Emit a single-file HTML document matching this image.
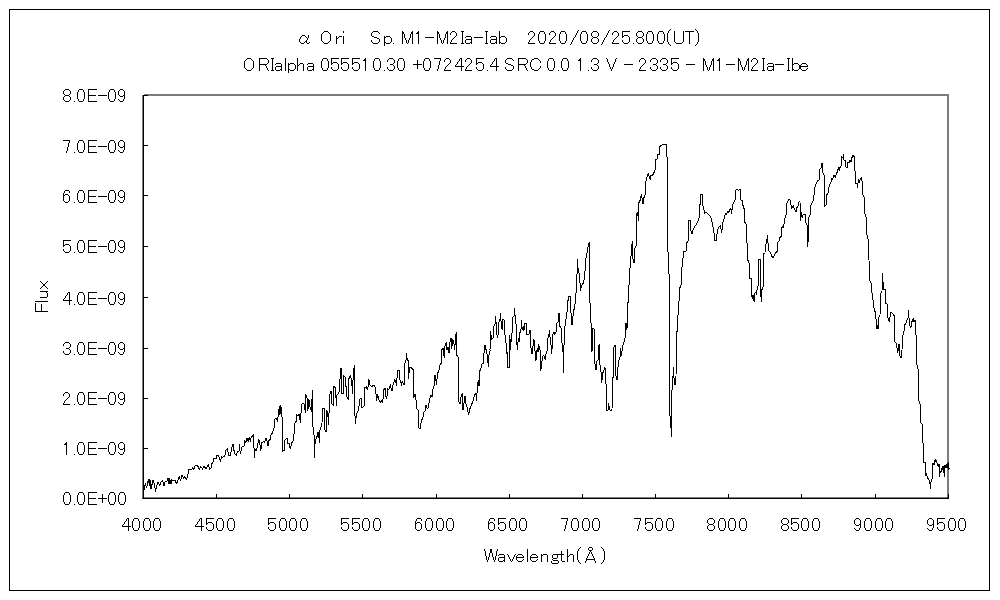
<!DOCTYPE html>
<html><head><meta charset="utf-8"><title>alpha Ori spectrum</title>
<style>
html,body{margin:0;padding:0;background:#fff;}
body{width:1000px;height:600px;overflow:hidden;font-family:"Liberation Sans",sans-serif;}
svg{display:block;}
text{font-family:"Liberation Sans",sans-serif;font-size:18px;fill:transparent;stroke:none;}
</style></head><body>
<svg width="1000" height="600" viewBox="0 0 1000 600">
<rect x="0" y="0" width="1000" height="600" fill="#fff"/>
<rect x="9.5" y="9.5" width="980" height="581" fill="none" stroke="#000" stroke-width="1" shape-rendering="crispEdges"/>
<rect x="144" y="94" width="805" height="2" fill="#7c7c7c"/>
<rect x="947" y="94" width="2" height="405" fill="#7c7c7c"/>
<path d="M144.0 490.5 L145.5 483.0 L146.5 488.0 L148.5 479.5 L149.5 486.0 L150.0 479.5 L151.0 489.0 L153.0 480.0 L154.5 484.0 L155.5 491.5 L157.5 483.0 L158.5 482.5 L159.5 486.0 L160.5 483.0 L162.5 480.0 L164.0 486.0 L165.0 482.0 L167.0 481.0 L168.0 478.0 L169.0 484.0 L169.5 478.0 L171.0 484.0 L171.5 480.0 L174.0 480.5 L175.0 480.0 L176.5 484.0 L178.5 478.5 L179.5 476.5 L180.5 481.0 L182.0 475.0 L183.5 478.5 L184.5 477.0 L186.5 479.0 L187.5 477.5 L188.5 470.0 L192.0 469.0 L192.5 467.5 L193.5 470.0 L194.5 467.0 L195.5 465.5 L197.5 465.5 L198.5 467.5 L199.5 470.0 L200.5 466.0 L202.5 469.0 L204.0 466.0 L206.0 469.0 L208.5 464.5 L209.5 469.0 L211.0 468.0 L212.0 463.5 L213.5 461.5 L214.0 458.5 L216.5 458.0 L217.0 455.5 L218.5 455.5 L219.5 458.0 L220.5 462.0 L221.5 456.0 L222.5 457.5 L225.0 455.5 L226.0 450.0 L227.5 448.5 L228.5 455.0 L230.5 455.0 L231.5 450.0 L232.5 444.0 L233.5 444.0 L234.0 450.5 L235.0 454.2 L236.5 455.0 L237.2 452.0 L239.0 451.2 L239.5 444.5 L240.2 453.5 L241.3 449.7 L242.2 446.7 L244.0 446.0 L244.7 440.0 L245.8 443.0 L247.0 437.7 L248.2 441.5 L249.2 437.0 L250.3 441.5 L251.2 437.0 L252.2 436.2 L253.3 434.3 L253.9 446.0 L254.5 457.7 L255.2 449.0 L256.3 450.5 L257.5 446.0 L258.7 439.2 L259.7 443.0 L260.8 450.5 L261.7 443.0 L263.5 441.5 L264.7 442.2 L265.7 437.7 L266.8 440.0 L268.0 446.0 L268.7 440.7 L270.2 439.2 L271.0 434.7 L272.5 433.2 L274.0 428.0 L274.7 419.0 L276.7 418.2 L277.3 422.0 L278.5 413.7 L279.4 406.2 L280.0 414.5 L280.9 405.5 L281.5 416.0 L282.4 417.5 L282.7 451.2 L284.2 450.5 L284.8 440.0 L286.0 439.2 L287.2 437.7 L287.8 443.0 L289.0 443.0 L289.7 447.5 L290.8 448.2 L291.2 443.7 L292.7 441.5 L293.8 440.0 L294.2 429.5 L295.0 422.7 L296.2 421.2 L296.8 415.2 L298.0 416.0 L299.2 413.7 L300.4 422.7 L301.0 413.0 L301.7 404.0 L303.2 403.2 L304.0 404.0 L305.5 413.0 L305.8 394.2 L307.0 398.0 L307.9 410.7 L308.8 398.7 L310.0 407.0 L311.5 411.5 L312.4 389.7 L312.7 426.5 L313.9 429.5 L314.5 457.7 L315.2 439.2 L316.7 438.5 L317.8 431.7 L318.7 432.5 L319.3 443.0 L319.7 431.0 L321.2 426.5 L322.0 422.7 L322.7 408.5 L324.7 408.5 L325.0 430.2 L326.2 431.7 L326.8 410.0 L327.7 413.0 L328.7 425.0 L329.5 395.0 L331.0 391.2 L331.7 403.2 L333.2 405.5 L333.7 386.7 L335.0 386.0 L334.9 386.7 L335.8 393.5 L336.4 406.2 L337.0 395.0 L338.5 393.5 L339.4 390.5 L340.6 368.7 L341.2 368.0 L341.8 393.5 L343.0 394.2 L343.6 375.5 L344.8 377.0 L345.7 377.7 L346.3 395.0 L347.5 398.7 L348.2 399.5 L349.0 378.5 L350.5 374.7 L351.7 382.2 L352.6 394.2 L353.2 373.2 L354.4 365.0 L355.0 416.0 L355.6 424.2 L356.2 414.5 L357.2 412.2 L358.7 410.0 L359.5 399.5 L361.0 398.0 L361.7 407.7 L363.2 406.7 L364.3 405.5 L364.9 387.5 L366.2 386.7 L367.3 389.7 L368.5 385.2 L368.8 379.2 L369.7 384.5 L370.7 386.0 L372.2 386.7 L373.3 385.2 L374.8 386.0 L375.7 391.2 L376.7 401.0 L377.5 394.2 L378.7 399.5 L380.2 402.8 L381.4 401.0 L382.7 403.2 L383.8 389.7 L385.0 388.2 L385.7 395.7 L386.8 398.7 L387.7 389.0 L388.9 389.7 L389.8 386.7 L390.4 384.5 L391.3 389.7 L392.2 391.2 L392.8 385.2 L394.0 382.2 L394.7 379.2 L395.8 381.5 L396.4 386.0 L397.0 378.5 L397.6 370.2 L399.1 370.2 L399.7 380.0 L400.7 380.7 L401.5 386.0 L402.2 380.7 L403.3 383.7 L404.2 384.5 L404.8 363.5 L406.0 360.5 L406.6 353.3 L407.2 359.7 L408.2 360.5 L408.7 379.2 L409.3 368.0 L410.8 367.2 L412.3 368.7 L413.5 370.2 L413.8 398.0 L415.0 394.2 L415.9 398.7 L416.8 408.5 L418.3 410.7 L418.9 428.0 L420.4 428.7 L421.0 423.5 L421.9 419.7 L422.8 418.2 L424.0 412.2 L425.0 410.7 L425.0 410.0 L426.0 405.0 L427.4 409.0 L428.6 407.0 L429.4 400.0 L431.0 395.0 L432.0 397.0 L433.0 389.0 L434.6 384.0 L435.0 375.0 L436.6 385.0 L437.4 374.0 L439.0 370.0 L440.0 365.0 L441.4 363.0 L441.8 350.0 L443.0 348.0 L444.2 358.0 L445.0 346.0 L446.2 342.0 L447.0 350.0 L448.0 347.0 L449.0 353.0 L450.0 342.0 L451.0 338.0 L451.8 349.0 L452.6 339.0 L453.8 342.0 L454.6 350.0 L455.4 340.0 L456.2 332.4 L456.6 355.0 L458.2 357.0 L459.0 402.0 L460.2 404.0 L461.0 397.0 L462.2 393.0 L463.0 410.0 L463.8 404.0 L465.0 396.0 L466.2 405.0 L467.4 408.0 L468.6 415.0 L469.8 409.0 L471.0 406.0 L473.0 401.0 L474.6 395.0 L475.8 393.0 L476.6 401.0 L477.4 385.0 L478.6 380.0 L479.0 386.0 L479.8 371.0 L481.4 367.0 L482.2 363.0 L483.4 363.0 L484.2 350.0 L485.0 345.0 L486.6 352.0 L487.8 358.0 L488.2 367.0 L489.0 355.0 L490.2 350.0 L490.0 349.7 L490.6 331.0 L491.5 339.2 L493.0 338.5 L493.6 326.5 L495.1 324.2 L495.5 316.3 L496.3 325.0 L497.2 337.7 L498.1 334.7 L498.7 322.7 L499.9 320.5 L500.5 313.3 L501.4 327.2 L502.3 329.5 L502.9 318.7 L504.4 320.2 L504.7 334.7 L505.9 336.2 L506.2 353.5 L507.4 352.0 L507.7 367.7 L509.5 367.7 L509.8 335.5 L510.7 349.7 L511.3 335.5 L512.2 332.5 L512.8 317.2 L514.3 316.0 L514.6 308.2 L515.2 318.2 L516.1 324.2 L516.7 343.0 L517.6 349.7 L518.2 338.5 L519.1 341.5 L519.7 333.2 L520.9 331.0 L521.5 320.5 L522.2 329.5 L523.3 325.7 L523.9 331.0 L524.8 323.5 L526.6 323.5 L526.9 334.3 L529.0 334.3 L529.6 331.0 L530.5 330.7 L531.1 350.5 L532.0 354.2 L532.9 347.5 L533.5 339.2 L534.7 340.7 L535.3 361.0 L536.5 359.5 L537.1 348.2 L538.0 352.0 L538.6 344.5 L539.5 348.2 L540.4 351.2 L540.7 370.7 L541.6 365.5 L542.5 356.5 L543.7 355.7 L544.6 357.2 L545.5 360.2 L546.1 352.7 L547.0 351.2 L547.6 338.5 L548.8 336.2 L549.4 330.2 L550.3 340.0 L551.2 346.7 L551.5 354.2 L552.1 347.5 L553.0 334.0 L553.9 331.7 L554.8 334.0 L556.0 332.5 L556.6 323.5 L558.1 322.0 L558.7 313.3 L559.6 313.7 L559.9 326.5 L561.1 328.0 L562.0 343.0 L562.9 347.5 L563.5 373.0 L563.8 350.5 L564.7 328.7 L566.3 316.7 L567.3 310.0 L568.3 296.7 L570.3 296.7 L571.0 313.3 L572.0 325.0 L572.7 320.8 L573.3 311.7 L574.7 307.5 L575.7 295.0 L576.7 290.0 L577.3 259.2 L578.3 271.7 L579.7 275.0 L580.3 290.8 L581.7 285.8 L583.7 282.5 L584.7 275.8 L585.7 260.0 L586.7 255.0 L588.0 246.7 L589.3 242.5 L589.7 296.7 L590.3 308.3 L591.0 323.3 L591.7 328.3 L591.7 327.5 L592.0 351.7 L593.0 328.3 L594.3 329.2 L594.7 362.5 L596.0 370.0 L596.7 361.7 L598.0 360.0 L598.7 345.0 L599.7 344.2 L600.0 365.0 L601.0 371.7 L601.7 382.5 L602.7 373.3 L604.0 370.0 L605.0 367.5 L605.7 383.3 L606.3 385.0 L606.7 410.0 L608.0 410.0 L608.7 403.3 L609.3 409.2 L610.3 410.0 L612.0 410.0 L612.3 378.3 L613.3 377.5 L614.0 346.7 L615.3 344.7 L615.7 375.0 L617.0 380.0 L617.7 370.0 L618.7 360.8 L620.0 357.5 L620.7 348.3 L621.7 355.8 L622.3 347.5 L623.7 342.5 L624.7 341.7 L625.3 334.2 L626.0 323.3 L627.0 330.0 L627.3 305.0 L628.7 300.0 L629.3 271.7 L630.3 266.7 L631.3 251.7 L632.3 240.8 L633.0 259.2 L634.0 263.3 L635.0 248.3 L636.3 245.0 L636.7 230.0 L636.3 214.2 L637.7 211.7 L638.3 220.8 L639.0 202.5 L640.3 200.0 L641.3 194.2 L642.3 199.2 L643.0 204.2 L643.7 198.3 L645.0 195.0 L645.7 182.5 L646.7 178.3 L647.7 175.0 L648.3 173.3 L649.3 176.7 L650.3 180.0 L651.0 175.0 L652.7 175.0 L654.0 172.5 L655.0 170.8 L655.3 160.0 L657.0 159.2 L657.7 154.7 L659.3 154.2 L660.0 146.3 L661.7 145.0 L663.7 144.3 L666.3 144.7 L666.7 156.7 L667.3 157.5 L667.7 235.0 L667.7 251.7 L668.7 252.5 L669.0 274.2 L669.7 275.0 L669.7 330.0 L669.6 415.0 L670.8 417.0 L671.2 437.0 L671.6 391.0 L672.8 387.0 L673.2 367.0 L674.4 383.0 L675.2 385.0 L676.0 377.0 L676.4 333.0 L678.0 329.0 L677.7 330.0 L678.3 301.7 L679.3 300.8 L679.7 288.3 L681.0 285.0 L681.7 267.5 L682.7 265.0 L683.3 251.7 L685.3 251.3 L686.3 250.8 L687.0 242.5 L688.3 240.8 L688.3 235.0 L688.3 220.3 L690.0 220.3 L690.7 230.0 L692.0 234.2 L693.0 230.0 L694.7 226.3 L696.3 225.0 L697.7 221.7 L699.0 218.3 L699.7 205.0 L700.7 203.3 L701.0 194.7 L702.3 194.3 L702.3 194.2 L702.7 205.0 L704.0 210.0 L704.7 213.3 L706.3 212.5 L707.7 213.7 L709.3 215.0 L711.0 218.3 L712.3 223.3 L713.7 230.0 L714.7 240.0 L716.3 240.0 L717.0 234.2 L718.3 227.5 L719.7 226.7 L720.7 225.0 L721.3 232.5 L722.3 228.3 L723.3 220.0 L724.7 217.5 L725.3 213.3 L726.7 214.2 L727.7 210.8 L728.7 212.5 L729.7 209.2 L730.7 208.3 L731.7 214.2 L732.3 205.0 L733.7 202.5 L735.0 200.0 L735.7 190.0 L737.3 189.3 L738.7 190.3 L740.0 189.3 L740.7 199.7 L742.0 200.3 L742.7 204.2 L743.7 208.3 L744.7 209.2 L745.0 222.5 L746.3 224.2 L747.0 243.3 L747.7 246.7 L747.5 260.0 L748.5 261.0 L749.5 265.5 L749.5 278.5 L751.5 278.5 L751.5 296.5 L752.5 296.0 L753.5 301.0 L754.0 295.0 L754.5 301.5 L755.0 293.0 L756.0 292.5 L756.5 294.5 L757.0 290.0 L758.5 284.5 L758.5 259.5 L760.5 259.5 L760.5 292.5 L761.5 302.0 L761.8 290.0 L763.5 285.5 L763.5 254.0 L765.5 252.5 L765.7 245.0 L766.7 242.5 L767.3 235.0 L768.0 243.3 L768.7 250.8 L770.0 251.7 L771.3 255.0 L772.7 258.0 L774.0 255.8 L775.3 253.3 L776.0 251.7 L777.0 252.5 L777.7 242.5 L779.0 240.8 L779.7 238.0 L781.0 236.7 L781.7 228.3 L782.7 225.8 L783.7 228.3 L784.3 220.0 L785.3 216.7 L786.0 215.0 L786.7 204.2 L788.0 200.8 L789.3 199.2 L790.7 200.8 L791.3 208.3 L792.7 207.5 L793.3 205.0 L794.3 209.2 L795.3 210.8 L796.3 211.7 L797.0 207.5 L798.3 205.8 L799.0 201.7 L800.0 201.3 L800.0 201.3 L800.3 220.8 L801.3 212.5 L802.3 218.3 L803.3 214.2 L805.3 214.2 L806.0 223.3 L807.0 225.0 L807.7 246.7 L808.3 238.3 L808.7 217.5 L810.0 215.0 L810.7 205.8 L812.3 202.5 L813.7 200.0 L814.3 190.8 L815.3 185.0 L816.7 183.3 L817.7 180.3 L819.3 180.0 L820.0 169.2 L821.0 168.0 L821.7 163.0 L822.3 164.2 L823.0 173.3 L824.3 175.8 L824.7 206.7 L826.0 205.0 L826.7 195.0 L828.0 193.3 L829.0 186.7 L830.0 184.2 L831.0 181.7 L831.7 178.3 L832.7 179.2 L833.7 175.8 L834.7 175.0 L835.3 178.3 L836.3 173.3 L837.7 171.7 L838.3 166.7 L839.3 170.8 L840.0 167.5 L841.3 165.8 L841.7 157.0 L843.0 157.5 L843.3 154.2 L844.0 160.0 L845.3 160.8 L846.0 166.7 L847.3 168.3 L848.0 161.7 L849.0 163.3 L850.0 160.0 L851.0 161.7 L852.0 157.5 L852.7 154.7 L853.3 156.3 L854.3 156.3 L854.7 170.0 L855.7 173.3 L856.0 184.2 L857.0 183.3 L857.7 187.5 L858.3 179.2 L859.3 182.5 L860.3 179.2 L861.3 178.3 L862.0 180.8 L862.7 194.2 L864.0 196.7 L864.7 213.3 L866.0 216.7 L867.0 235.0 L868.3 240.0 L869.0 260.0 L869.3 279.2 L871.0 283.3 L872.0 293.3 L873.3 301.7 L874.3 310.8 L875.7 312.5 L876.3 325.0 L877.0 329.2 L877.7 325.0 L878.3 329.2 L878.7 317.5 L880.0 315.0 L880.7 293.3 L882.0 290.8 L882.7 273.3 L883.3 289.2 L885.0 289.2 L885.7 303.3 L887.3 304.2 L888.0 318.3 L889.3 321.7 L890.3 315.0 L891.0 311.7 L892.3 313.3 L893.7 315.0 L894.7 316.7 L895.0 341.7 L896.0 343.3 L897.0 348.3 L897.7 353.3 L898.3 348.3 L899.0 344.2 L899.7 355.0 L900.7 358.3 L901.3 357.5 L902.0 350.0 L902.7 335.8 L903.7 333.3 L904.7 325.0 L906.0 323.3 L907.0 320.0 L908.0 318.3 L908.7 310.0 L909.3 325.0 L910.3 326.7 L911.0 327.5 L911.7 321.7 L912.7 320.8 L913.3 318.3 L914.0 321.7 L915.0 320.0 L915.7 335.0 L916.7 335.8 L917.0 365.0 L917.3 366.0 L918.4 371.3 L918.7 400.0 L920.0 404.0 L920.5 422.7 L922.1 424.0 L922.4 430.0 L922.4 442.6 L923.4 443.2 L923.4 462.2 L925.5 462.4 L925.5 476.2 L926.5 473.2 L927.4 477.4 L928.4 479.2 L929.6 481.0 L930.1 484.6 L930.6 489.4 L930.8 482.2 L932.0 479.8 L932.5 463.6 L933.7 463.0 L934.2 465.4 L934.6 460.6 L935.6 460.0 L936.1 462.4 L936.8 460.6 L937.3 465.4 L938.0 464.2 L938.5 467.2 L939.0 463.6 L939.4 476.8 L940.2 470.8 L940.9 472.6 L941.6 467.8 L942.3 469.6 L943.0 466.0 L943.8 467.2 L944.2 477.4 L944.7 466.0 L945.4 465.4 L946.2 468.4 L946.6 463.6 L947.4 468.4 L948.1 462.4 L948.6 469.6 L949.3 468.4 L949.8 469.0" fill="none" stroke="#000" stroke-width="1" stroke-linejoin="miter" stroke-miterlimit="2" shape-rendering="crispEdges"/>
<rect x="142.5" y="95" width="1.5" height="404" fill="#000"/>
<rect x="142.5" y="497.5" width="806.5" height="1.5" fill="#000"/>
<g fill="#000" shape-rendering="crispEdges"><rect x="144" y="498" width="4" height="1"/><rect x="144" y="448" width="4" height="1"/><rect x="144" y="398" width="4" height="1"/><rect x="144" y="348" width="4" height="1"/><rect x="144" y="297" width="4" height="1"/><rect x="144" y="246" width="4" height="1"/><rect x="144" y="195" width="4" height="1"/><rect x="144" y="145" width="4" height="1"/><rect x="144" y="95" width="4" height="1"/><rect x="143" y="494" width="1" height="4"/><rect x="216" y="494" width="1" height="4"/><rect x="289" y="494" width="1" height="4"/><rect x="362" y="494" width="1" height="4"/><rect x="436" y="494" width="1" height="4"/><rect x="509" y="494" width="1" height="4"/><rect x="582" y="494" width="1" height="4"/><rect x="655" y="494" width="1" height="4"/><rect x="728" y="494" width="1" height="4"/><rect x="801" y="494" width="1" height="4"/><rect x="875" y="494" width="1" height="4"/><rect x="948" y="494" width="1" height="4"/></g>
<path d="M35 303h1v8h-1zM35 301h13v1h-13zM35 311h13v1h-13zM40 281h1v1h-1zM40 288h1v1h-1zM40 297h7v1h-7zM40 291h8v1h-8zM41 282h1v1h-1zM41 287h1v1h-1zM41 304h1v7h-1zM42 283h1v1h-1zM42 286h1v1h-1zM43 284h2v2h-2zM45 283h1v1h-1zM45 286h1v1h-1zM46 282h1v1h-1zM46 287h1v1h-1zM46 292h1v1h-1zM47 281h1v1h-1zM47 288h1v1h-1zM47 293h1v4h-1zM63 91h1v3h-1zM63 97h1v3h-1zM63 193h1v2h-1zM63 196h1v5h-1zM63 241h1v4h-1zM63 246h1v1h-1zM63 249h1v2h-1zM63 299h1v1h-1zM63 344h1v2h-1zM63 351h1v2h-1zM63 394h1v2h-1zM63 403h1v1h-1zM63 495h1v7h-1zM63 195h2v1h-2zM63 245h2v1h-2zM63 140h7v1h-7zM63 404h7v1h-7zM63 240h8v1h-8zM63 300h9v1h-9zM64 90h1v1h-1zM64 94h1v1h-1zM64 96h1v1h-1zM64 100h1v1h-1zM64 191h1v2h-1zM64 201h1v1h-1zM64 251h1v1h-1zM64 298h1v1h-1zM64 343h1v1h-1zM64 353h1v1h-1zM64 393h1v1h-1zM64 401h1v2h-1zM64 493h1v2h-1zM64 502h1v2h-1zM64 444h3v1h-3zM65 296h1v2h-1zM65 400h1v1h-1zM65 443h2v1h-2zM65 194h3v1h-3zM65 202h3v1h-3zM65 392h3v1h-3zM65 89h4v1h-4zM65 95h4v1h-4zM65 101h4v1h-4zM65 190h4v1h-4zM65 244h4v1h-4zM65 252h4v1h-4zM65 342h4v1h-4zM65 354h4v1h-4zM65 492h4v1h-4zM65 504h4v1h-4zM66 151h1v2h-1zM66 295h1v1h-1zM66 399h1v1h-1zM66 442h1v1h-1zM66 445h1v10h-1zM66 348h3v1h-3zM67 147h1v4h-1zM67 293h1v2h-1zM67 398h1v1h-1zM68 143h1v4h-1zM68 195h1v1h-1zM68 201h1v1h-1zM68 393h1v1h-1zM68 397h1v1h-1zM68 292h2v1h-2zM69 90h1v1h-1zM69 94h1v1h-1zM69 96h1v1h-1zM69 100h1v1h-1zM69 141h1v2h-1zM69 191h1v2h-1zM69 196h1v5h-1zM69 245h1v1h-1zM69 251h1v1h-1zM69 293h1v7h-1zM69 301h1v4h-1zM69 343h1v1h-1zM69 347h1v1h-1zM69 349h1v1h-1zM69 353h1v1h-1zM69 394h1v3h-1zM69 493h1v2h-1zM69 502h1v2h-1zM70 91h1v3h-1zM70 97h1v3h-1zM70 246h1v5h-1zM70 344h1v3h-1zM70 350h1v3h-1zM70 495h1v7h-1zM74 101h1v1h-1zM74 152h1v1h-1zM74 202h1v1h-1zM74 252h1v1h-1zM74 304h1v1h-1zM74 354h1v1h-1zM74 404h1v1h-1zM74 454h1v1h-1zM74 504h1v1h-1zM77 92h1v7h-1zM77 143h1v7h-1zM77 193h1v7h-1zM77 243h1v7h-1zM77 295h1v7h-1zM77 345h1v7h-1zM77 395h1v7h-1zM77 445h1v7h-1zM77 495h1v7h-1zM78 90h1v2h-1zM78 99h1v2h-1zM78 141h1v2h-1zM78 150h1v2h-1zM78 191h1v2h-1zM78 200h1v2h-1zM78 241h1v2h-1zM78 250h1v2h-1zM78 293h1v2h-1zM78 302h1v2h-1zM78 343h1v2h-1zM78 352h1v2h-1zM78 393h1v2h-1zM78 402h1v2h-1zM78 443h1v2h-1zM78 452h1v2h-1zM78 493h1v2h-1zM78 502h1v2h-1zM79 89h4v1h-4zM79 101h4v1h-4zM79 140h4v1h-4zM79 152h4v1h-4zM79 190h4v1h-4zM79 202h4v1h-4zM79 240h4v1h-4zM79 252h4v1h-4zM79 292h4v1h-4zM79 304h4v1h-4zM79 342h4v1h-4zM79 354h4v1h-4zM79 392h4v1h-4zM79 404h4v1h-4zM79 442h4v1h-4zM79 454h4v1h-4zM79 492h4v1h-4zM79 504h4v1h-4zM83 90h1v2h-1zM83 99h1v2h-1zM83 141h1v2h-1zM83 150h1v2h-1zM83 191h1v2h-1zM83 200h1v2h-1zM83 241h1v2h-1zM83 250h1v2h-1zM83 293h1v2h-1zM83 302h1v2h-1zM83 343h1v2h-1zM83 352h1v2h-1zM83 393h1v2h-1zM83 402h1v2h-1zM83 443h1v2h-1zM83 452h1v2h-1zM83 493h1v2h-1zM83 502h1v2h-1zM84 92h1v7h-1zM84 143h1v7h-1zM84 193h1v7h-1zM84 243h1v7h-1zM84 295h1v7h-1zM84 345h1v7h-1zM84 395h1v7h-1zM84 445h1v7h-1zM84 495h1v7h-1zM88 90h1v5h-1zM88 96h1v5h-1zM88 141h1v5h-1zM88 147h1v5h-1zM88 191h1v5h-1zM88 197h1v5h-1zM88 241h1v5h-1zM88 247h1v5h-1zM88 293h1v5h-1zM88 299h1v5h-1zM88 343h1v5h-1zM88 349h1v5h-1zM88 393h1v5h-1zM88 399h1v5h-1zM88 443h1v5h-1zM88 449h1v5h-1zM88 493h1v5h-1zM88 499h1v5h-1zM88 95h8v1h-8zM88 146h8v1h-8zM88 196h8v1h-8zM88 246h8v1h-8zM88 298h8v1h-8zM88 348h8v1h-8zM88 398h8v1h-8zM88 448h8v1h-8zM88 498h8v1h-8zM88 89h9v1h-9zM88 101h9v1h-9zM88 140h9v1h-9zM88 152h9v1h-9zM88 190h9v1h-9zM88 202h9v1h-9zM88 240h9v1h-9zM88 252h9v1h-9zM88 292h9v1h-9zM88 304h9v1h-9zM88 342h9v1h-9zM88 354h9v1h-9zM88 392h9v1h-9zM88 404h9v1h-9zM88 442h9v1h-9zM88 454h9v1h-9zM88 492h9v1h-9zM88 504h9v1h-9zM98 95h9v1h-9zM98 146h9v1h-9zM98 196h9v1h-9zM98 246h9v1h-9zM98 298h9v1h-9zM98 348h9v1h-9zM98 398h9v1h-9zM98 448h9v1h-9zM98 498h9v1h-9zM102 494h1v4h-1zM102 499h1v4h-1zM108 92h1v7h-1zM108 143h1v7h-1zM108 193h1v7h-1zM108 243h1v7h-1zM108 295h1v7h-1zM108 345h1v7h-1zM108 395h1v7h-1zM108 445h1v7h-1zM108 495h1v7h-1zM109 90h1v2h-1zM109 99h1v2h-1zM109 141h1v2h-1zM109 150h1v2h-1zM109 191h1v2h-1zM109 200h1v2h-1zM109 241h1v2h-1zM109 250h1v2h-1zM109 293h1v2h-1zM109 302h1v2h-1zM109 343h1v2h-1zM109 352h1v2h-1zM109 393h1v2h-1zM109 402h1v2h-1zM109 443h1v2h-1zM109 452h1v2h-1zM109 493h1v2h-1zM109 502h1v2h-1zM110 89h4v1h-4zM110 101h4v1h-4zM110 140h4v1h-4zM110 152h4v1h-4zM110 190h4v1h-4zM110 202h4v1h-4zM110 240h4v1h-4zM110 252h4v1h-4zM110 292h4v1h-4zM110 304h4v1h-4zM110 342h4v1h-4zM110 354h4v1h-4zM110 392h4v1h-4zM110 404h4v1h-4zM110 442h4v1h-4zM110 454h4v1h-4zM110 492h4v1h-4zM110 504h4v1h-4zM114 90h1v2h-1zM114 99h1v2h-1zM114 141h1v2h-1zM114 150h1v2h-1zM114 191h1v2h-1zM114 200h1v2h-1zM114 241h1v2h-1zM114 250h1v2h-1zM114 293h1v2h-1zM114 302h1v2h-1zM114 343h1v2h-1zM114 352h1v2h-1zM114 393h1v2h-1zM114 402h1v2h-1zM114 443h1v2h-1zM114 452h1v2h-1zM114 493h1v2h-1zM114 502h1v2h-1zM115 92h1v7h-1zM115 143h1v7h-1zM115 193h1v7h-1zM115 243h1v7h-1zM115 295h1v7h-1zM115 345h1v7h-1zM115 395h1v7h-1zM115 445h1v7h-1zM115 495h1v7h-1zM118 91h1v4h-1zM118 99h1v1h-1zM118 142h1v4h-1zM118 150h1v1h-1zM118 192h1v4h-1zM118 200h1v1h-1zM118 242h1v4h-1zM118 250h1v1h-1zM118 294h1v4h-1zM118 302h1v1h-1zM118 344h1v4h-1zM118 352h1v1h-1zM118 394h1v4h-1zM118 402h1v1h-1zM118 444h1v4h-1zM118 452h1v1h-1zM118 495h1v7h-1zM119 90h1v1h-1zM119 95h1v1h-1zM119 100h1v1h-1zM119 141h1v1h-1zM119 146h1v1h-1zM119 151h1v1h-1zM119 191h1v1h-1zM119 196h1v1h-1zM119 201h1v1h-1zM119 241h1v1h-1zM119 246h1v1h-1zM119 251h1v1h-1zM119 293h1v1h-1zM119 298h1v1h-1zM119 303h1v1h-1zM119 343h1v1h-1zM119 348h1v1h-1zM119 353h1v1h-1zM119 393h1v1h-1zM119 398h1v1h-1zM119 403h1v1h-1zM119 443h1v1h-1zM119 448h1v1h-1zM119 453h1v1h-1zM119 493h1v2h-1zM119 502h1v2h-1zM120 89h3v1h-3zM120 96h3v1h-3zM120 101h3v1h-3zM120 140h3v1h-3zM120 147h3v1h-3zM120 152h3v1h-3zM120 190h3v1h-3zM120 197h3v1h-3zM120 202h3v1h-3zM120 240h3v1h-3zM120 247h3v1h-3zM120 252h3v1h-3zM120 292h3v1h-3zM120 299h3v1h-3zM120 304h3v1h-3zM120 342h3v1h-3zM120 349h3v1h-3zM120 354h3v1h-3zM120 392h3v1h-3zM120 399h3v1h-3zM120 404h3v1h-3zM120 442h3v1h-3zM120 449h3v1h-3zM120 454h3v1h-3zM120 492h4v1h-4zM120 504h4v1h-4zM122 525h1v1h-1zM122 526h9v1h-9zM123 90h1v1h-1zM123 99h1v2h-1zM123 141h1v1h-1zM123 150h1v2h-1zM123 191h1v1h-1zM123 200h1v2h-1zM123 241h1v1h-1zM123 250h1v2h-1zM123 293h1v1h-1zM123 302h1v2h-1zM123 343h1v1h-1zM123 352h1v2h-1zM123 393h1v1h-1zM123 402h1v2h-1zM123 443h1v1h-1zM123 452h1v2h-1zM123 524h1v1h-1zM123 95h2v1h-2zM123 146h2v1h-2zM123 196h2v1h-2zM123 246h2v1h-2zM123 298h2v1h-2zM123 348h2v1h-2zM123 398h2v1h-2zM123 448h2v1h-2zM124 91h1v4h-1zM124 96h1v3h-1zM124 142h1v4h-1zM124 147h1v3h-1zM124 192h1v4h-1zM124 197h1v3h-1zM124 242h1v4h-1zM124 247h1v3h-1zM124 294h1v4h-1zM124 299h1v3h-1zM124 344h1v4h-1zM124 349h1v3h-1zM124 394h1v4h-1zM124 399h1v3h-1zM124 444h1v4h-1zM124 449h1v3h-1zM124 493h1v2h-1zM124 502h1v2h-1zM124 522h1v2h-1zM125 495h1v7h-1zM125 521h1v1h-1zM126 519h1v2h-1zM127 518h2v1h-2zM128 519h1v7h-1zM128 527h1v4h-1zM132 521h1v7h-1zM133 519h1v2h-1zM133 528h1v2h-1zM134 518h4v1h-4zM134 530h4v1h-4zM138 519h1v2h-1zM138 528h1v2h-1zM139 521h1v7h-1zM143 521h1v7h-1zM144 519h1v2h-1zM144 528h1v2h-1zM145 518h4v1h-4zM145 530h4v1h-4zM149 519h1v2h-1zM149 528h1v2h-1zM150 521h1v7h-1zM153 521h1v7h-1zM154 519h1v2h-1zM154 528h1v2h-1zM155 518h4v1h-4zM155 530h4v1h-4zM159 519h1v2h-1zM159 528h1v2h-1zM160 521h1v7h-1zM195 525h1v1h-1zM195 526h9v1h-9zM196 524h1v1h-1zM197 522h1v2h-1zM198 521h1v1h-1zM199 519h1v2h-1zM200 518h2v1h-2zM201 519h1v7h-1zM201 527h1v4h-1zM206 519h1v4h-1zM206 524h1v1h-1zM206 527h1v2h-1zM206 523h2v1h-2zM206 518h8v1h-8zM207 529h1v1h-1zM208 522h4v1h-4zM208 530h4v1h-4zM212 523h1v1h-1zM212 529h1v1h-1zM213 524h1v5h-1zM216 521h1v7h-1zM217 519h1v2h-1zM217 528h1v2h-1zM218 518h4v1h-4zM218 530h4v1h-4zM222 519h1v2h-1zM222 528h1v2h-1zM223 521h1v7h-1zM227 521h1v7h-1zM228 519h1v2h-1zM228 528h1v2h-1zM229 518h4v1h-4zM229 530h4v1h-4zM233 519h1v2h-1zM233 528h1v2h-1zM234 521h1v7h-1zM244 61h1v7h-1zM245 60h1v1h-1zM245 68h1v1h-1zM246 59h1v1h-1zM246 69h1v1h-1zM247 58h4v1h-4zM247 70h4v1h-4zM251 59h1v1h-1zM251 69h1v1h-1zM252 60h1v1h-1zM252 68h1v1h-1zM253 61h1v7h-1zM259 59h1v5h-1zM259 65h1v6h-1zM259 58h8v1h-8zM259 64h8v1h-8zM265 65h1v1h-1zM266 66h1v2h-1zM267 59h1v1h-1zM267 63h1v1h-1zM267 68h1v2h-1zM268 60h1v3h-1zM268 70h1v1h-1zM268 519h1v4h-1zM268 524h1v1h-1zM268 527h1v2h-1zM268 523h2v1h-2zM268 518h8v1h-8zM269 529h1v1h-1zM270 522h4v1h-4zM270 530h4v1h-4zM271 58h3v1h-3zM271 70h3v1h-3zM272 59h1v11h-1zM274 523h1v1h-1zM274 529h1v1h-1zM275 64h1v1h-1zM275 67h1v3h-1zM275 524h1v5h-1zM276 70h4v1h-4zM276 63h5v1h-5zM276 66h6v1h-6zM279 521h1v7h-1zM280 519h1v2h-1zM280 528h1v2h-1zM280 69h2v1h-2zM281 64h1v2h-1zM281 67h1v2h-1zM281 70h1v1h-1zM281 518h4v1h-4zM281 530h4v1h-4zM285 58h1v13h-1zM285 519h1v2h-1zM285 528h1v2h-1zM286 521h1v7h-1zM288 63h1v1h-1zM288 65h1v4h-1zM288 70h1v3h-1zM288 64h2v1h-2zM288 69h2v1h-2zM289 521h1v7h-1zM290 519h1v2h-1zM290 528h1v2h-1zM290 63h4v1h-4zM290 70h4v1h-4zM291 518h4v1h-4zM291 530h4v1h-4zM294 64h1v1h-1zM294 69h1v1h-1zM295 65h1v4h-1zM295 519h1v2h-1zM295 528h1v2h-1zM296 521h1v7h-1zM297 58h1v7h-1zM297 66h1v5h-1zM297 65h2v1h-2zM299 39h1v3h-1zM299 64h1v1h-1zM300 37h1v2h-1zM300 42h1v1h-1zM300 521h1v7h-1zM300 63h3v1h-3zM301 36h1v1h-1zM301 519h1v2h-1zM301 528h1v2h-1zM301 43h3v1h-3zM302 35h3v1h-3zM302 518h4v1h-4zM302 530h4v1h-4zM303 64h1v7h-1zM304 42h1v1h-1zM305 36h1v1h-1zM305 41h2v1h-2zM306 37h1v1h-1zM306 40h1v1h-1zM306 42h1v1h-1zM306 519h1v2h-1zM306 528h1v2h-1zM307 38h1v2h-1zM307 64h1v1h-1zM307 67h1v3h-1zM307 521h1v7h-1zM307 43h2v1h-2zM308 35h1v3h-1zM308 70h4v1h-4zM308 63h5v1h-5zM308 66h6v1h-6zM309 42h1v1h-1zM312 69h2v1h-2zM313 64h1v2h-1zM313 67h1v2h-1zM313 70h1v1h-1zM321 34h1v7h-1zM321 61h1v7h-1zM322 33h1v1h-1zM322 41h1v1h-1zM322 59h1v2h-1zM322 68h1v2h-1zM323 32h1v1h-1zM323 42h1v1h-1zM323 58h4v1h-4zM323 70h4v1h-4zM324 31h4v1h-4zM324 43h4v1h-4zM327 59h1v2h-1zM327 68h1v2h-1zM328 32h1v1h-1zM328 42h1v1h-1zM328 61h1v7h-1zM329 33h1v1h-1zM329 41h1v1h-1zM330 34h1v7h-1zM331 59h1v4h-1zM331 64h1v1h-1zM331 67h1v2h-1zM331 63h2v1h-2zM331 58h8v1h-8zM332 69h1v1h-1zM333 62h4v1h-4zM333 70h4v1h-4zM336 36h1v2h-1zM336 39h1v5h-1zM336 38h2v1h-2zM337 63h1v1h-1zM337 69h1v1h-1zM338 37h1v1h-1zM338 64h1v5h-1zM339 36h3v1h-3zM341 59h1v4h-1zM341 64h1v1h-1zM341 67h1v2h-1zM341 519h1v4h-1zM341 524h1v1h-1zM341 527h1v2h-1zM341 63h2v1h-2zM341 523h2v1h-2zM341 58h8v1h-8zM341 518h8v1h-8zM342 69h1v1h-1zM342 529h1v1h-1zM343 31h1v2h-1zM343 36h1v8h-1zM343 62h4v1h-4zM343 70h4v1h-4zM343 522h4v1h-4zM343 530h4v1h-4zM347 63h1v1h-1zM347 69h1v1h-1zM347 523h1v1h-1zM347 529h1v1h-1zM348 64h1v5h-1zM348 524h1v5h-1zM352 59h1v4h-1zM352 64h1v1h-1zM352 67h1v2h-1zM352 519h1v4h-1zM352 524h1v1h-1zM352 527h1v2h-1zM352 63h2v1h-2zM352 523h2v1h-2zM352 58h8v1h-8zM352 518h8v1h-8zM353 69h1v1h-1zM353 529h1v1h-1zM354 62h4v1h-4zM354 70h4v1h-4zM354 522h4v1h-4zM354 530h4v1h-4zM358 63h1v1h-1zM358 69h1v1h-1zM358 523h1v1h-1zM358 529h1v1h-1zM359 64h1v5h-1zM359 524h1v5h-1zM362 521h1v7h-1zM363 519h1v2h-1zM363 528h1v2h-1zM363 60h3v1h-3zM364 59h2v1h-2zM364 518h4v1h-4zM364 530h4v1h-4zM365 58h1v1h-1zM365 61h1v10h-1zM368 519h1v2h-1zM368 528h1v2h-1zM369 521h1v7h-1zM371 33h1v3h-1zM371 40h1v2h-1zM372 32h1v1h-1zM372 42h1v1h-1zM372 36h2v1h-2zM373 61h1v7h-1zM373 521h1v7h-1zM373 31h5v1h-5zM373 43h5v1h-5zM374 59h1v2h-1zM374 68h1v2h-1zM374 519h1v2h-1zM374 528h1v2h-1zM374 37h3v1h-3zM375 58h4v1h-4zM375 70h4v1h-4zM375 518h4v1h-4zM375 530h4v1h-4zM377 38h2v1h-2zM378 32h1v1h-1zM378 42h1v1h-1zM379 33h1v1h-1zM379 39h1v3h-1zM379 59h1v2h-1zM379 68h1v2h-1zM379 519h1v2h-1zM379 528h1v2h-1zM380 61h1v7h-1zM380 521h1v7h-1zM384 36h1v1h-1zM384 38h1v4h-1zM384 43h1v3h-1zM384 70h1v1h-1zM384 37h2v1h-2zM384 42h2v1h-2zM386 36h4v1h-4zM386 43h4v1h-4zM387 60h1v2h-1zM387 67h1v2h-1zM388 59h1v1h-1zM388 69h1v1h-1zM389 58h4v1h-4zM389 70h4v1h-4zM390 37h1v1h-1zM390 42h1v1h-1zM390 64h3v1h-3zM391 38h1v4h-1zM393 43h1v1h-1zM393 59h1v1h-1zM393 63h1v1h-1zM393 65h1v1h-1zM393 69h1v1h-1zM394 60h1v3h-1zM394 66h1v3h-1zM397 61h1v7h-1zM398 59h1v2h-1zM398 68h1v2h-1zM399 58h4v1h-4zM399 70h4v1h-4zM402 31h1v1h-1zM402 34h1v10h-1zM402 32h2v2h-2zM403 59h1v2h-1zM403 68h1v2h-1zM404 34h1v4h-1zM404 61h1v7h-1zM405 38h1v2h-1zM406 40h1v3h-1zM407 43h1v1h-1zM408 40h1v3h-1zM409 38h1v2h-1zM410 34h1v4h-1zM411 32h2v2h-2zM412 31h1v1h-1zM412 34h1v10h-1zM413 64h9v1h-9zM415 521h1v2h-1zM415 524h1v5h-1zM415 523h2v1h-2zM416 519h1v2h-1zM416 529h1v1h-1zM416 33h3v1h-3zM417 60h1v4h-1zM417 65h1v4h-1zM417 32h2v1h-2zM417 522h3v1h-3zM417 530h3v1h-3zM417 518h4v1h-4zM418 31h1v1h-1zM418 34h1v10h-1zM420 523h1v1h-1zM420 529h1v1h-1zM421 519h1v2h-1zM421 524h1v5h-1zM423 61h1v7h-1zM424 59h1v2h-1zM424 68h1v2h-1zM425 521h1v7h-1zM425 58h4v1h-4zM425 70h4v1h-4zM425 37h9v1h-9zM426 519h1v2h-1zM426 528h1v2h-1zM427 518h4v1h-4zM427 530h4v1h-4zM429 59h1v2h-1zM429 68h1v2h-1zM430 61h1v7h-1zM431 519h1v2h-1zM431 528h1v2h-1zM432 521h1v7h-1zM434 58h7v1h-7zM436 521h1v7h-1zM437 31h1v1h-1zM437 34h1v10h-1zM437 69h1v2h-1zM437 519h1v2h-1zM437 528h1v2h-1zM437 32h2v2h-2zM438 65h1v4h-1zM438 518h4v1h-4zM438 530h4v1h-4zM439 34h1v4h-1zM439 61h1v4h-1zM440 38h1v2h-1zM440 59h1v2h-1zM441 40h1v3h-1zM442 43h1v1h-1zM442 519h1v2h-1zM442 528h1v2h-1zM443 40h1v3h-1zM443 521h1v7h-1zM444 38h1v2h-1zM444 60h1v2h-1zM444 69h1v1h-1zM444 70h7v1h-7zM445 34h1v4h-1zM445 59h1v1h-1zM445 67h1v2h-1zM446 66h1v1h-1zM446 521h1v7h-1zM446 32h2v2h-2zM446 58h3v1h-3zM447 31h1v1h-1zM447 34h1v10h-1zM447 65h1v1h-1zM447 519h1v2h-1zM447 528h1v2h-1zM448 64h1v1h-1zM448 518h4v1h-4zM448 530h4v1h-4zM449 59h1v1h-1zM449 63h1v1h-1zM450 33h1v2h-1zM450 42h1v1h-1zM450 60h1v3h-1zM450 43h7v1h-7zM451 32h1v1h-1zM451 40h1v2h-1zM452 39h1v1h-1zM452 519h1v2h-1zM452 528h1v2h-1zM452 31h3v1h-3zM453 38h1v1h-1zM453 521h1v7h-1zM454 37h1v1h-1zM455 32h1v1h-1zM455 36h1v1h-1zM455 65h1v1h-1zM455 66h9v1h-9zM456 33h1v3h-1zM456 64h1v1h-1zM457 62h1v2h-1zM458 61h1v1h-1zM459 59h1v2h-1zM460 58h2v1h-2zM461 59h1v7h-1zM461 67h1v4h-1zM461 31h3v1h-3zM461 43h3v1h-3zM462 32h1v11h-1zM465 37h1v1h-1zM465 40h1v3h-1zM465 60h1v2h-1zM465 69h1v1h-1zM465 70h7v1h-7zM466 59h1v1h-1zM466 67h1v2h-1zM466 43h4v1h-4zM466 36h5v1h-5zM466 39h6v1h-6zM467 66h1v1h-1zM467 58h3v1h-3zM468 65h1v1h-1zM469 64h1v1h-1zM470 59h1v1h-1zM470 63h1v1h-1zM470 42h2v1h-2zM471 37h1v2h-1zM471 40h1v2h-1zM471 43h1v1h-1zM471 60h1v3h-1zM474 37h9v1h-9zM476 59h1v4h-1zM476 64h1v1h-1zM476 67h1v2h-1zM476 63h2v1h-2zM476 58h8v1h-8zM477 69h1v1h-1zM478 62h4v1h-4zM478 70h4v1h-4zM482 63h1v1h-1zM482 69h1v1h-1zM483 64h1v5h-1zM484 549h1v2h-1zM485 551h1v5h-1zM485 31h3v1h-3zM485 43h3v1h-3zM486 32h1v11h-1zM486 556h1v4h-1zM487 70h1v1h-1zM487 560h1v2h-1zM488 521h1v2h-1zM488 524h1v5h-1zM488 557h1v3h-1zM488 523h2v1h-2zM489 519h1v2h-1zM489 529h1v1h-1zM489 553h1v4h-1zM490 37h1v1h-1zM490 40h1v3h-1zM490 65h1v1h-1zM490 549h2v4h-2zM490 522h3v1h-3zM490 530h3v1h-3zM490 518h4v1h-4zM490 66h9v1h-9zM491 64h1v1h-1zM491 43h4v1h-4zM491 36h5v1h-5zM491 39h6v1h-6zM492 62h1v2h-1zM492 553h1v4h-1zM493 61h1v1h-1zM493 523h1v1h-1zM493 529h1v1h-1zM493 557h1v3h-1zM494 59h1v2h-1zM494 519h1v2h-1zM494 524h1v5h-1zM494 560h1v2h-1zM495 556h1v4h-1zM495 42h2v1h-2zM495 58h2v1h-2zM496 37h1v2h-1zM496 40h1v2h-1zM496 43h1v1h-1zM496 59h1v7h-1zM496 67h1v4h-1zM496 551h1v5h-1zM497 549h1v2h-1zM498 519h1v4h-1zM498 524h1v1h-1zM498 527h1v2h-1zM498 555h1v1h-1zM498 558h1v3h-1zM498 523h2v1h-2zM498 518h8v1h-8zM499 31h1v6h-1zM499 38h1v4h-1zM499 43h1v1h-1zM499 529h1v1h-1zM499 37h2v1h-2zM499 42h2v1h-2zM499 561h4v1h-4zM499 554h5v1h-5zM499 557h6v1h-6zM500 522h4v1h-4zM500 530h4v1h-4zM501 36h4v1h-4zM501 43h4v1h-4zM503 560h2v1h-2zM504 523h1v1h-1zM504 529h1v1h-1zM504 555h1v2h-1zM504 558h1v2h-1zM504 561h1v1h-1zM505 37h1v1h-1zM505 42h1v1h-1zM505 60h1v3h-1zM505 67h1v2h-1zM505 524h1v5h-1zM506 38h1v4h-1zM506 59h1v1h-1zM506 69h1v1h-1zM506 63h2v1h-2zM507 554h1v1h-1zM507 58h5v1h-5zM507 70h5v1h-5zM508 555h1v2h-1zM508 64h3v1h-3zM509 521h1v7h-1zM509 557h1v2h-1zM510 519h1v2h-1zM510 528h1v2h-1zM510 559h1v2h-1zM511 561h1v1h-1zM511 65h2v1h-2zM511 518h4v1h-4zM511 530h4v1h-4zM512 59h1v1h-1zM512 69h1v1h-1zM512 559h1v2h-1zM513 60h1v1h-1zM513 66h1v3h-1zM513 557h1v2h-1zM514 555h1v2h-1zM515 519h1v2h-1zM515 528h1v2h-1zM515 554h1v1h-1zM516 521h1v7h-1zM516 556h1v1h-1zM516 558h1v2h-1zM516 557h8v1h-8zM517 555h1v1h-1zM517 560h1v1h-1zM518 59h1v5h-1zM518 65h1v6h-1zM518 554h4v1h-4zM518 561h4v1h-4zM518 58h8v1h-8zM518 64h8v1h-8zM519 521h1v7h-1zM520 519h1v2h-1zM520 528h1v2h-1zM521 518h4v1h-4zM521 530h4v1h-4zM522 555h1v1h-1zM522 560h1v1h-1zM523 556h1v1h-1zM523 559h1v1h-1zM524 65h1v1h-1zM525 66h1v2h-1zM525 519h1v2h-1zM525 528h1v2h-1zM526 59h1v1h-1zM526 63h1v1h-1zM526 68h1v2h-1zM526 521h1v7h-1zM527 60h1v3h-1zM527 70h1v1h-1zM527 549h1v13h-1zM528 33h1v2h-1zM528 42h1v1h-1zM528 43h7v1h-7zM529 32h1v1h-1zM529 40h1v2h-1zM530 39h1v1h-1zM530 62h1v5h-1zM530 556h1v1h-1zM530 558h1v2h-1zM530 31h3v1h-3zM530 557h8v1h-8zM531 38h1v1h-1zM531 60h1v2h-1zM531 67h1v2h-1zM531 555h1v1h-1zM531 560h1v1h-1zM532 37h1v1h-1zM532 59h2v1h-2zM532 69h2v1h-2zM532 554h4v1h-4zM532 561h4v1h-4zM533 32h1v1h-1zM533 36h1v1h-1zM534 33h1v3h-1zM534 58h4v1h-4zM534 70h4v1h-4zM536 555h1v1h-1zM536 560h1v1h-1zM537 556h1v1h-1zM537 559h1v1h-1zM538 34h1v7h-1zM538 59h1v1h-1zM538 69h1v1h-1zM539 32h1v2h-1zM539 41h1v2h-1zM539 60h1v1h-1zM539 68h1v1h-1zM540 61h1v2h-1zM540 66h1v2h-1zM540 31h4v1h-4zM540 43h4v1h-4zM541 554h1v1h-1zM541 556h1v6h-1zM541 555h2v1h-2zM543 554h4v1h-4zM544 32h1v2h-1zM544 41h1v2h-1zM545 34h1v7h-1zM547 61h1v7h-1zM547 555h1v7h-1zM548 59h1v2h-1zM548 68h1v2h-1zM549 33h1v2h-1zM549 42h1v1h-1zM549 58h4v1h-4zM549 70h4v1h-4zM549 43h7v1h-7zM550 32h1v1h-1zM550 40h1v2h-1zM551 39h1v1h-1zM551 561h1v2h-1zM551 31h3v1h-3zM552 38h1v1h-1zM552 555h1v3h-1zM552 559h1v1h-1zM552 563h6v1h-6zM553 37h1v1h-1zM553 59h1v2h-1zM553 68h1v2h-1zM553 558h4v1h-4zM553 560h5v1h-5zM553 554h11v1h-11zM554 32h1v1h-1zM554 36h1v1h-1zM554 61h1v7h-1zM555 33h1v3h-1zM557 555h1v3h-1zM558 70h1v1h-1zM558 561h1v2h-1zM559 34h1v7h-1zM560 32h1v2h-1zM560 41h1v2h-1zM561 61h1v7h-1zM561 551h1v3h-1zM561 555h1v6h-1zM561 31h4v1h-4zM561 43h4v1h-4zM561 518h7v1h-7zM562 59h1v2h-1zM562 68h1v2h-1zM562 561h3v1h-3zM563 58h4v1h-4zM563 70h4v1h-4zM564 529h1v2h-1zM565 32h1v2h-1zM565 41h1v2h-1zM565 525h1v4h-1zM566 34h1v7h-1zM566 521h1v4h-1zM567 59h1v2h-1zM567 68h1v2h-1zM567 519h1v2h-1zM567 549h1v7h-1zM567 557h1v5h-1zM567 556h2v1h-2zM568 61h1v7h-1zM569 555h1v1h-1zM570 44h1v1h-1zM570 554h3v1h-3zM571 42h1v2h-1zM571 521h1v7h-1zM572 40h1v2h-1zM572 519h1v2h-1zM572 528h1v2h-1zM573 38h1v2h-1zM573 555h1v7h-1zM573 518h4v1h-4zM573 530h4v1h-4zM574 37h1v1h-1zM575 35h1v2h-1zM576 33h1v2h-1zM577 31h1v2h-1zM577 519h1v2h-1zM577 528h1v2h-1zM577 551h1v9h-1zM578 30h1v1h-1zM578 521h1v7h-1zM578 549h1v2h-1zM578 560h1v2h-1zM578 60h3v1h-3zM579 548h1v1h-1zM579 562h1v1h-1zM579 59h2v1h-2zM580 34h1v7h-1zM580 58h1v1h-1zM580 61h1v10h-1zM580 547h1v1h-1zM580 563h1v1h-1zM581 32h1v2h-1zM581 41h1v2h-1zM582 521h1v7h-1zM582 31h4v1h-4zM582 43h4v1h-4zM583 519h1v2h-1zM583 528h1v2h-1zM584 518h4v1h-4zM584 530h4v1h-4zM585 561h1v2h-1zM586 32h1v2h-1zM586 41h1v2h-1zM586 558h1v1h-1zM586 560h1v1h-1zM586 559h9v1h-9zM587 34h1v7h-1zM587 556h1v2h-1zM588 70h1v1h-1zM588 519h1v2h-1zM588 528h1v2h-1zM588 548h1v2h-1zM588 554h1v2h-1zM589 521h1v7h-1zM589 552h1v2h-1zM589 547h3v1h-3zM589 550h3v1h-3zM590 551h1v1h-1zM591 33h1v3h-1zM591 39h1v3h-1zM591 60h1v2h-1zM591 67h1v2h-1zM591 552h1v2h-1zM592 32h1v1h-1zM592 36h1v1h-1zM592 38h1v1h-1zM592 42h1v1h-1zM592 59h1v1h-1zM592 69h1v1h-1zM592 521h1v7h-1zM592 548h1v2h-1zM592 554h1v2h-1zM593 519h1v2h-1zM593 528h1v2h-1zM593 556h1v2h-1zM593 31h4v1h-4zM593 37h4v1h-4zM593 43h4v1h-4zM593 58h4v1h-4zM593 70h4v1h-4zM594 558h1v1h-1zM594 560h1v1h-1zM594 64h3v1h-3zM594 518h4v1h-4zM594 530h4v1h-4zM595 561h1v2h-1zM597 32h1v1h-1zM597 36h1v1h-1zM597 38h1v1h-1zM597 42h1v1h-1zM597 59h1v1h-1zM597 63h1v1h-1zM597 65h1v1h-1zM597 69h1v1h-1zM598 33h1v3h-1zM598 39h1v3h-1zM598 60h1v3h-1zM598 66h1v3h-1zM598 519h1v2h-1zM598 528h1v2h-1zM599 521h1v7h-1zM601 44h1v1h-1zM601 547h1v1h-1zM601 563h1v1h-1zM602 42h1v2h-1zM602 548h1v1h-1zM602 562h1v1h-1zM603 40h1v2h-1zM603 549h1v2h-1zM603 560h1v2h-1zM604 38h1v2h-1zM604 551h1v9h-1zM605 37h1v1h-1zM606 35h1v2h-1zM606 58h1v1h-1zM607 33h1v2h-1zM607 59h1v3h-1zM608 31h1v2h-1zM608 62h1v2h-1zM609 30h1v1h-1zM609 64h1v3h-1zM610 67h1v2h-1zM611 69h1v2h-1zM612 33h1v2h-1zM612 42h1v1h-1zM612 67h1v2h-1zM612 43h7v1h-7zM613 32h1v1h-1zM613 40h1v2h-1zM613 64h1v3h-1zM614 39h1v1h-1zM614 62h1v2h-1zM614 31h3v1h-3zM615 38h1v1h-1zM615 59h1v3h-1zM616 37h1v1h-1zM616 58h1v1h-1zM617 32h1v1h-1zM617 36h1v1h-1zM618 33h1v3h-1zM622 32h1v4h-1zM622 37h1v1h-1zM622 40h1v2h-1zM622 36h2v1h-2zM622 31h8v1h-8zM623 42h1v1h-1zM624 35h4v1h-4zM624 43h4v1h-4zM624 64h9v1h-9zM628 36h1v1h-1zM628 42h1v1h-1zM629 37h1v5h-1zM633 43h1v1h-1zM634 518h7v1h-7zM636 33h1v3h-1zM636 39h1v3h-1zM637 32h1v1h-1zM637 36h1v1h-1zM637 38h1v1h-1zM637 42h1v1h-1zM637 529h1v2h-1zM638 525h1v4h-1zM638 31h4v1h-4zM638 37h4v1h-4zM638 43h4v1h-4zM639 60h1v2h-1zM639 69h1v1h-1zM639 521h1v4h-1zM639 70h7v1h-7zM640 59h1v1h-1zM640 67h1v2h-1zM640 519h1v2h-1zM641 66h1v1h-1zM641 58h3v1h-3zM642 32h1v1h-1zM642 36h1v1h-1zM642 38h1v1h-1zM642 42h1v1h-1zM642 65h1v1h-1zM643 33h1v3h-1zM643 39h1v3h-1zM643 64h1v1h-1zM644 59h1v1h-1zM644 63h1v1h-1zM645 60h1v3h-1zM645 519h1v4h-1zM645 524h1v1h-1zM645 527h1v2h-1zM645 523h2v1h-2zM645 518h8v1h-8zM646 34h1v7h-1zM646 529h1v1h-1zM647 32h1v2h-1zM647 41h1v2h-1zM647 522h4v1h-4zM647 530h4v1h-4zM648 31h4v1h-4zM648 43h4v1h-4zM650 60h1v2h-1zM650 67h1v2h-1zM651 59h1v1h-1zM651 69h1v1h-1zM651 523h1v1h-1zM651 529h1v1h-1zM652 32h1v2h-1zM652 41h1v2h-1zM652 524h1v5h-1zM652 58h4v1h-4zM652 70h4v1h-4zM653 34h1v7h-1zM653 64h3v1h-3zM655 521h1v7h-1zM656 59h1v1h-1zM656 63h1v1h-1zM656 65h1v1h-1zM656 69h1v1h-1zM656 519h1v2h-1zM656 528h1v2h-1zM657 34h1v7h-1zM657 60h1v3h-1zM657 66h1v3h-1zM657 518h4v1h-4zM657 530h4v1h-4zM658 32h1v2h-1zM658 41h1v2h-1zM659 31h4v1h-4zM659 43h4v1h-4zM660 60h1v2h-1zM660 67h1v2h-1zM661 59h1v1h-1zM661 69h1v1h-1zM661 519h1v2h-1zM661 528h1v2h-1zM662 521h1v7h-1zM662 58h4v1h-4zM662 70h4v1h-4zM663 32h1v2h-1zM663 41h1v2h-1zM663 64h3v1h-3zM664 34h1v7h-1zM666 59h1v1h-1zM666 63h1v1h-1zM666 65h1v1h-1zM666 69h1v1h-1zM666 521h1v7h-1zM667 33h1v9h-1zM667 60h1v3h-1zM667 66h1v3h-1zM667 519h1v2h-1zM667 528h1v2h-1zM668 31h1v2h-1zM668 42h1v2h-1zM668 518h4v1h-4zM668 530h4v1h-4zM669 30h1v1h-1zM669 44h1v1h-1zM670 29h1v1h-1zM670 45h1v1h-1zM671 59h1v4h-1zM671 64h1v1h-1zM671 67h1v2h-1zM671 63h2v1h-2zM671 58h8v1h-8zM672 69h1v1h-1zM672 519h1v2h-1zM672 528h1v2h-1zM673 521h1v7h-1zM673 62h4v1h-4zM673 70h4v1h-4zM674 31h1v11h-1zM675 42h1v1h-1zM676 43h6v1h-6zM677 63h1v1h-1zM677 69h1v1h-1zM678 64h1v5h-1zM682 42h1v1h-1zM683 31h1v11h-1zM685 31h9v1h-9zM686 64h9v1h-9zM689 32h1v12h-1zM695 29h1v1h-1zM695 45h1v1h-1zM696 30h1v1h-1zM696 44h1v1h-1zM697 31h1v2h-1zM697 42h1v2h-1zM698 33h1v9h-1zM703 58h1v1h-1zM703 61h1v10h-1zM703 59h2v2h-2zM705 61h1v4h-1zM706 65h1v2h-1zM707 67h1v3h-1zM707 520h1v3h-1zM707 526h1v3h-1zM708 70h1v1h-1zM708 519h1v1h-1zM708 523h1v1h-1zM708 525h1v1h-1zM708 529h1v1h-1zM709 67h1v3h-1zM709 518h4v1h-4zM709 524h4v1h-4zM709 530h4v1h-4zM710 65h1v2h-1zM711 61h1v4h-1zM712 59h2v2h-2zM713 58h1v1h-1zM713 61h1v10h-1zM713 519h1v1h-1zM713 523h1v1h-1zM713 525h1v1h-1zM713 529h1v1h-1zM714 520h1v3h-1zM714 526h1v3h-1zM717 60h3v1h-3zM718 521h1v7h-1zM718 59h2v1h-2zM719 58h1v1h-1zM719 61h1v10h-1zM719 519h1v2h-1zM719 528h1v2h-1zM720 518h4v1h-4zM720 530h4v1h-4zM724 519h1v2h-1zM724 528h1v2h-1zM725 521h1v7h-1zM726 64h9v1h-9zM728 521h1v7h-1zM729 519h1v2h-1zM729 528h1v2h-1zM730 518h4v1h-4zM730 530h4v1h-4zM734 519h1v2h-1zM734 528h1v2h-1zM735 521h1v7h-1zM738 58h1v1h-1zM738 61h1v10h-1zM738 59h2v2h-2zM739 521h1v7h-1zM740 61h1v4h-1zM740 519h1v2h-1zM740 528h1v2h-1zM741 65h1v2h-1zM741 518h4v1h-4zM741 530h4v1h-4zM742 67h1v3h-1zM743 70h1v1h-1zM744 67h1v3h-1zM745 65h1v2h-1zM745 519h1v2h-1zM745 528h1v2h-1zM746 61h1v4h-1zM746 521h1v7h-1zM747 59h2v2h-2zM748 58h1v1h-1zM748 61h1v10h-1zM751 60h1v2h-1zM751 69h1v1h-1zM751 70h7v1h-7zM752 59h1v1h-1zM752 67h1v2h-1zM753 66h1v1h-1zM753 58h3v1h-3zM754 65h1v1h-1zM755 64h1v1h-1zM756 59h1v1h-1zM756 63h1v1h-1zM757 60h1v3h-1zM762 58h3v1h-3zM762 70h3v1h-3zM763 59h1v11h-1zM767 64h1v1h-1zM767 67h1v3h-1zM768 70h4v1h-4zM768 63h5v1h-5zM768 66h6v1h-6zM772 69h2v1h-2zM773 64h1v2h-1zM773 67h1v2h-1zM773 70h1v1h-1zM775 64h9v1h-9zM781 520h1v3h-1zM781 526h1v3h-1zM782 519h1v1h-1zM782 523h1v1h-1zM782 525h1v1h-1zM782 529h1v1h-1zM783 518h4v1h-4zM783 524h4v1h-4zM783 530h4v1h-4zM787 519h1v1h-1zM787 523h1v1h-1zM787 525h1v1h-1zM787 529h1v1h-1zM787 58h3v1h-3zM787 70h3v1h-3zM788 59h1v11h-1zM788 520h1v3h-1zM788 526h1v3h-1zM791 519h1v4h-1zM791 524h1v1h-1zM791 527h1v2h-1zM791 523h2v1h-2zM791 518h8v1h-8zM792 58h1v6h-1zM792 65h1v4h-1zM792 70h1v1h-1zM792 529h1v1h-1zM792 64h2v1h-2zM792 69h2v1h-2zM793 522h4v1h-4zM793 530h4v1h-4zM794 63h4v1h-4zM794 70h4v1h-4zM797 523h1v1h-1zM797 529h1v1h-1zM798 64h1v1h-1zM798 69h1v1h-1zM798 524h1v5h-1zM799 65h2v1h-2zM799 67h2v2h-2zM799 66h9v1h-9zM801 64h1v1h-1zM801 69h1v1h-1zM801 521h1v7h-1zM802 519h1v2h-1zM802 528h1v2h-1zM802 63h4v1h-4zM802 70h4v1h-4zM803 518h4v1h-4zM803 530h4v1h-4zM806 64h1v1h-1zM806 69h1v1h-1zM807 65h1v1h-1zM807 68h1v1h-1zM807 519h1v2h-1zM807 528h1v2h-1zM808 521h1v7h-1zM812 521h1v7h-1zM813 519h1v2h-1zM813 528h1v2h-1zM814 518h4v1h-4zM814 530h4v1h-4zM818 519h1v2h-1zM818 528h1v2h-1zM819 521h1v7h-1zM854 520h1v4h-1zM854 528h1v1h-1zM855 519h1v1h-1zM855 524h1v1h-1zM855 529h1v1h-1zM856 518h3v1h-3zM856 525h3v1h-3zM856 530h3v1h-3zM859 519h1v1h-1zM859 528h1v2h-1zM859 524h2v1h-2zM860 520h1v4h-1zM860 525h1v3h-1zM864 521h1v7h-1zM865 519h1v2h-1zM865 528h1v2h-1zM866 518h4v1h-4zM866 530h4v1h-4zM870 519h1v2h-1zM870 528h1v2h-1zM871 521h1v7h-1zM875 521h1v7h-1zM876 519h1v2h-1zM876 528h1v2h-1zM877 518h4v1h-4zM877 530h4v1h-4zM881 519h1v2h-1zM881 528h1v2h-1zM882 521h1v7h-1zM885 521h1v7h-1zM886 519h1v2h-1zM886 528h1v2h-1zM887 518h4v1h-4zM887 530h4v1h-4zM891 519h1v2h-1zM891 528h1v2h-1zM892 521h1v7h-1zM927 520h1v4h-1zM927 528h1v1h-1zM928 519h1v1h-1zM928 524h1v1h-1zM928 529h1v1h-1zM929 518h3v1h-3zM929 525h3v1h-3zM929 530h3v1h-3zM932 519h1v1h-1zM932 528h1v2h-1zM932 524h2v1h-2zM933 520h1v4h-1zM933 525h1v3h-1zM937 519h1v4h-1zM937 524h1v1h-1zM937 527h1v2h-1zM937 523h2v1h-2zM937 518h8v1h-8zM938 529h1v1h-1zM939 522h4v1h-4zM939 530h4v1h-4zM943 523h1v1h-1zM943 529h1v1h-1zM944 524h1v5h-1zM948 521h1v7h-1zM949 519h1v2h-1zM949 528h1v2h-1zM950 518h4v1h-4zM950 530h4v1h-4zM954 519h1v2h-1zM954 528h1v2h-1zM955 521h1v7h-1zM958 521h1v7h-1zM959 519h1v2h-1zM959 528h1v2h-1zM960 518h4v1h-4zM960 530h4v1h-4zM964 519h1v2h-1zM964 528h1v2h-1zM965 521h1v7h-1z" fill="#000" shape-rendering="crispEdges"/>
<text transform="translate(297.57 43.80) scale(1.340 1)">α</text>
<text x="319.74" y="43.80" textLength="25.81" lengthAdjust="spacing">Ori</text>
<text x="369.66" y="43.80" textLength="25.86" lengthAdjust="spacing">Sp.</text>
<text x="399.47" y="43.80" textLength="108.38" lengthAdjust="spacing">M1−M2Ia−Iab</text>
<text x="526.91" y="43.80" textLength="173.69" lengthAdjust="spacing">2020/08/25.800(UT)</text>
<text x="242.76" y="70.50" textLength="71.52" lengthAdjust="spacing">ORIalpha</text>
<text x="319.82" y="70.50" textLength="86.63" lengthAdjust="spacing">055510.30</text>
<text x="411.96" y="70.50" textLength="87.70" lengthAdjust="spacing">+072425.4</text>
<text x="503.72" y="70.50" textLength="38.93" lengthAdjust="spacing">SRC</text>
<text x="546.31" y="70.50" textLength="23.31" lengthAdjust="spacing">0.0</text>
<text x="575.62" y="70.50" textLength="24.55" lengthAdjust="spacing">1.3</text>
<text transform="translate(605.10 70.50) scale(1.024 1)">V</text>
<text transform="translate(623.54 70.50) scale(0.907 1)">−</text>
<text x="637.60" y="70.50" textLength="42.24" lengthAdjust="spacing">2335</text>
<text transform="translate(685.86 70.50) scale(0.907 1)">−</text>
<text x="701.12" y="70.50" textLength="107.84" lengthAdjust="spacing">M1−M2Ia−Ibe</text>
<text x="61.82" y="504.80" textLength="64.84" lengthAdjust="spacing">0.0E+00</text>
<text x="61.00" y="454.43" textLength="65.87" lengthAdjust="spacing">1.0E−09</text>
<text x="61.45" y="404.05" textLength="65.40" lengthAdjust="spacing">2.0E−09</text>
<text x="61.77" y="353.68" textLength="65.03" lengthAdjust="spacing">3.0E−09</text>
<text x="62.10" y="303.30" textLength="64.70" lengthAdjust="spacing">4.0E−09</text>
<text x="61.47" y="252.93" textLength="65.39" lengthAdjust="spacing">5.0E−09</text>
<text x="61.68" y="202.55" textLength="64.98" lengthAdjust="spacing">6.0E−09</text>
<text x="61.49" y="152.18" textLength="65.37" lengthAdjust="spacing">7.0E−09</text>
<text x="61.74" y="101.80" textLength="64.93" lengthAdjust="spacing">8.0E−09</text>
<text x="121.34" y="530.60" textLength="41.49" lengthAdjust="spacing">4000</text>
<text x="194.64" y="530.60" textLength="41.41" lengthAdjust="spacing">4500</text>
<text x="267.24" y="530.60" textLength="41.82" lengthAdjust="spacing">5000</text>
<text x="340.44" y="530.60" textLength="41.92" lengthAdjust="spacing">5500</text>
<text x="413.53" y="530.60" textLength="41.96" lengthAdjust="spacing">6000</text>
<text x="486.86" y="530.60" textLength="41.82" lengthAdjust="spacing">6500</text>
<text x="559.87" y="530.60" textLength="42.00" lengthAdjust="spacing">7000</text>
<text x="633.03" y="530.60" textLength="41.95" lengthAdjust="spacing">7500</text>
<text x="706.47" y="530.60" textLength="41.64" lengthAdjust="spacing">8000</text>
<text x="779.72" y="530.60" textLength="41.62" lengthAdjust="spacing">8500</text>
<text x="852.82" y="530.60" textLength="41.84" lengthAdjust="spacing">9000</text>
<text x="925.85" y="530.60" textLength="42.05" lengthAdjust="spacing">9500</text>
<text x="483.64" y="561.60" textLength="123.48" lengthAdjust="spacing">Wavelength(Å)</text>
<text transform="translate(48.00 314.00) rotate(-90)" textLength="33.00" lengthAdjust="spacing">Flux</text>
</svg></body></html>
